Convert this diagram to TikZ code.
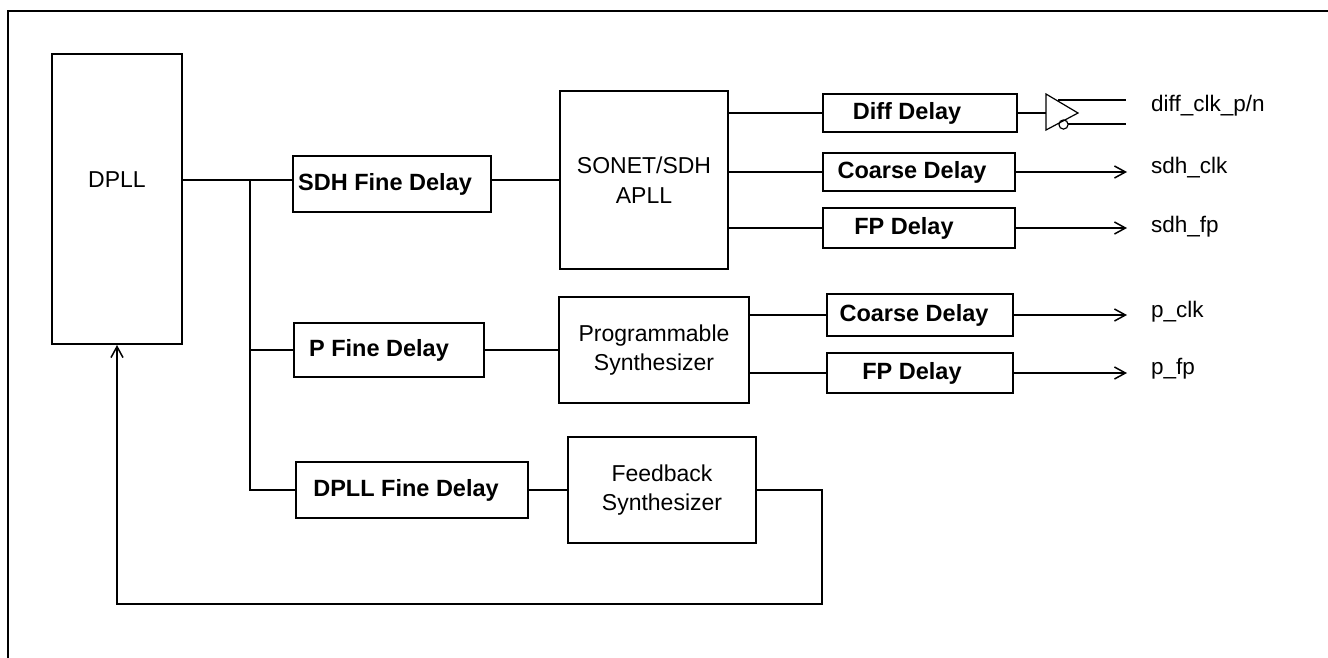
\documentclass[tikz,border=0pt]{standalone}
\usepackage{fontspec}
\setmainfont{Liberation Sans}
\usetikzlibrary{arrows.meta,calc}
\begin{document}
\begin{tikzpicture}[x=1pt,y=-1pt,
  box/.style={draw, line width=2pt, inner sep=0pt, align=center,
    font=\fontsize{23}{29.5}\selectfont},
  dbox/.style={box, font=\fontsize{23.5}{29}\selectfont\bfseries},
  wire/.style={line width=2pt},
  arr/.style={wire, -{Straight Barb[length=11pt,width=12pt,line width=1.5pt]}},
  lbl/.style={anchor=west, inner sep=0pt, font=\fontsize{22.5}{26}\selectfont},
  thin/.style={line width=1.2pt}]
\useasboundingbox (0,0) rectangle (1328,657);
\clip (0,0) rectangle (1328,657);
% outer frame (partially visible)
\draw[wire] (8,700) -- (8,11) -- (1400,11);

% main blocks
\node[box, minimum width=130pt, minimum height=290pt] (dpll) at (117,199) {};
\node[inner sep=0pt, font=\fontsize{23}{26}\selectfont] (dpllt) at (117,180) {DPLL};

\node[dbox, minimum width=198pt, minimum height=56pt] (sdhf) at (392,184) {SDH Fine Delay\hspace*{14pt}};
\node[dbox, minimum width=190pt, minimum height=54pt] (pf) at (389,350) {P Fine Delay\hspace*{20pt}};
\node[dbox, minimum width=232pt, minimum height=56pt] (df) at (412,490) {DPLL Fine Delay\hspace*{12pt}};

\node[box, minimum width=168pt, minimum height=178pt] (sonet) at (644,180) {SONET/SDH\\APLL};
\node[box, minimum width=190pt, minimum height=106pt] (prog) at (654,350) {Programmable\\Synthesizer};
\node[box, minimum width=188pt, minimum height=106pt] (fb) at (662,490) {Feedback\\Synthesizer};

\node[dbox, minimum width=194pt, minimum height=38pt] (diff) at (920,113) {Diff Delay\hspace*{26pt}};
\node[dbox, minimum width=192pt, minimum height=38pt] (coarse) at (919,172) {Coarse Delay\hspace*{14pt}};
\node[dbox, minimum width=192pt, minimum height=40pt] (fp) at (919,228) {FP Delay\hspace*{30pt}};
\node[dbox, minimum width=186pt, minimum height=42pt] (coarse2) at (920,315) {Coarse Delay\hspace*{12pt}};
\node[dbox, minimum width=186pt, minimum height=40pt] (fp2) at (920,373) {FP Delay\hspace*{16pt}};

% DPLL output and bus
\coordinate (bt) at (250,180);
\draw[wire] (dpll.east |- sonet.west) -- (sdhf.west |- sonet.west);
\draw[wire] (sdhf.east |- sonet.west) -- (sonet.west);
\draw[wire] (bt) |- (df.west);
\draw[wire] (bt |- pf.west) -- (pf.west);
\draw[wire] (pf.east) -- (pf.east -| prog.west);
\draw[wire] (df.east) -- (df.east -| fb.west);

% SONET outputs
\draw[wire] (sonet.east |- diff.west) -- (diff.west);
\draw[wire] (sonet.east |- coarse.west) -- (coarse.west);
\draw[wire] (sonet.east |- fp.west) -- (fp.west);
% programmable outputs
\draw[wire] (prog.east |- coarse2.west) -- (coarse2.west);
\draw[wire] (prog.east |- fp2.west) -- (fp2.west);

% output arrows
\coordinate (xend) at (1127,0);
\draw[arr] (coarse.east) -- (coarse.east -| xend);
\draw[arr] (fp.east) -- (fp.east -| xend);
\draw[arr] (coarse2.east) -- (coarse2.east -| xend);
\draw[arr] (fp2.east) -- (fp2.east -| xend);

% differential buffer
\coordinate (b1) at (1046,94);
\coordinate (b2) at (1046,130);
\coordinate (b3) at (1078,113);
\draw[wire] (diff.east) -- (b1 |- diff.east);
\draw[thin, line join=miter] (b1) -- (b3) -- (b2) -- cycle;
\draw[thin] (1063.5,124.5) circle (4.6pt);
\draw[wire] (1058,100) -- (1126,100);
\draw[wire] (1068,124) -- (1126,124);

% labels
\node[lbl] (l1) at (1151,106) {diff\_clk\_p/n};
\node[lbl] (l2) at (1151,168) {sdh\_clk};
\node[lbl] (l3) at (1151,227) {sdh\_fp};
\node[lbl] (l4) at (1151,312) {p\_clk};
\node[lbl] (l5) at (1151,369) {p\_fp};

% feedback loop
\coordinate (lr) at (822,604);
\draw[arr] (fb.east) -| (lr) -| (dpll.south);
\end{tikzpicture}
\end{document}
